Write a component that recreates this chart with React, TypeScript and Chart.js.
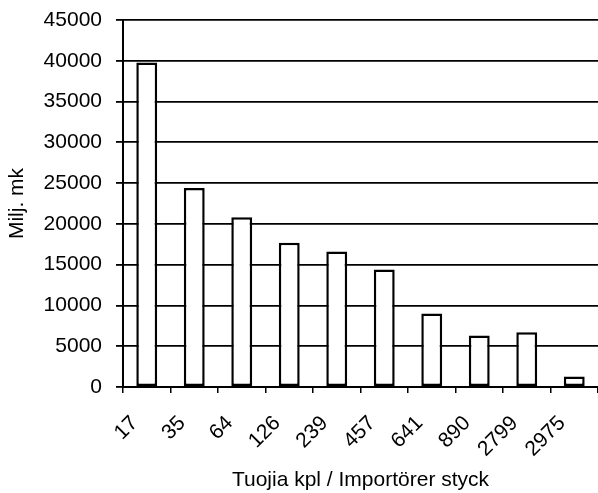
import React, { useEffect, useRef } from "react";
import { Chart, registerables } from "chart.js";

Chart.register(...registerables);

const categories = ["17", "35", "64", "126", "239", "457", "641", "890", "2799", "2975"];
const values = [39800, 24400, 20800, 17700, 16600, 14400, 9000, 6300, 6700, 1300];
const yTitle = "Milj. mk";
const xTitle = "Tuojia kpl / Importörer styck";

export default function App() {
  const ref = useRef<HTMLCanvasElement | null>(null);

  useEffect(() => {
    if (!ref.current) return;
    const font = "'Liberation Sans', Arial, sans-serif";
    const chart = new Chart(ref.current, {
      type: "bar",
      data: {
        labels: categories,
        datasets: [
          {
            data: values,
            backgroundColor: "#ffffff",
            borderColor: "#000000",
            borderWidth: 2.5,
            borderSkipped: false,
            categoryPercentage: 1,
            barPercentage: 0.44,
          },
        ],
      },
      options: {
        responsive: false,
        animation: false,
        layout: { padding: { top: 20, left: 0, right: 0, bottom: 0 } },
        plugins: { legend: { display: false }, tooltip: { enabled: false } },
        scales: {
          x: {
            offset: true,
            grid: {
              offset: true,
              drawOnChartArea: false,
              drawTicks: true,
              tickLength: 6,
              color: "#000",
              lineWidth: 1.5,
            },
            border: { display: true, color: "#000", width: 2 },
            ticks: {
              color: "#000",
              font: { family: font, size: 21 },
              minRotation: 45,
              maxRotation: 45,
              autoSkip: false,
              labelOffset: -12,
              padding: 18,
            },
            title: {
              display: true,
              text: xTitle,
              color: "#000",
              font: { family: font, size: 21 },
              padding: { top: 0, bottom: 0 },
            },
            afterFit: (scale: any) => {
              scale.height = 106;
              scale.paddingLeft = 0;
              scale.paddingRight = 0;
              scale.paddingTop = 0;
              scale.paddingBottom = 0;
            },
          },
          y: {
            min: 0,
            max: 45000,
            ticks: {
              stepSize: 5000,
              color: "#000",
              font: { family: font, size: 21 },
              padding: 14,
              callback: (v: any) => String(v),
            },
            grid: {
              color: "#000",
              lineWidth: 1.8,
              tickLength: 7,
            },
            border: { display: true, color: "#000", width: 2 },
            title: {
              display: true,
              text: yTitle,
              color: "#000",
              font: { family: font, size: 21 },
              padding: { top: 5, bottom: 0 },
            },
            afterFit: (scale: any) => {
              scale.width = 123;
              scale.paddingTop = 0;
              scale.paddingBottom = 0;
              scale.paddingLeft = 0;
              scale.paddingRight = 0;
            },
          },
        },
      },
    });
    return () => chart.destroy();
  }, []);

  return (
    <div style={{ position: "absolute", left: 0, top: 0, width: 598, height: 493, background: "#fff" }}>
      <canvas ref={ref} width={598} height={493} />
    </div>
  );
}
